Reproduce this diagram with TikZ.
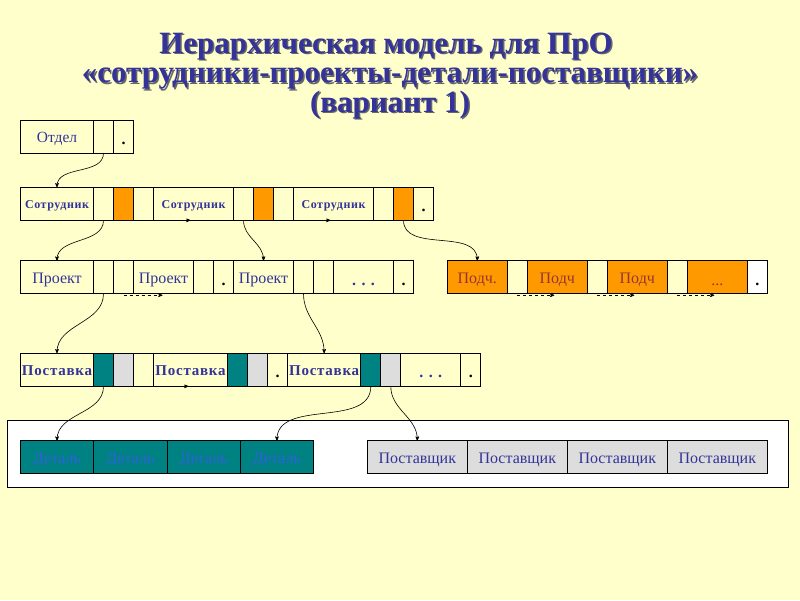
\documentclass[tikz,border=0pt]{standalone}
\usepackage{fontspec}
\setmainfont{Liberation Serif}
\newfontfamily\spacedfont[LetterSpace=5]{Liberation Serif}
\usetikzlibrary{arrows}
\usetikzlibrary{positioning}
\definecolor{bgyel}{RGB}{255,255,204}
\definecolor{navy}{RGB}{51,51,153}
\definecolor{orng}{RGB}{255,153,0}
\definecolor{tealc}{RGB}{0,130,130}
\definecolor{greyc}{RGB}{221,221,221}
\definecolor{brwn}{RGB}{153,51,51}
\definecolor{detblue}{RGB}{50,95,225}
\tikzset{
	cell/.style = {draw=black, line width=0.8pt, inner sep=0pt, outer sep=0pt,
		minimum width=20pt, minimum height=33pt, text height=14pt,
		text depth=2pt, text=navy, font=\fontsize{16}{19}\selectfont},% empty cell
	lbl/.style = {cell, minimum width=#1},% cell with a name
	small/.style = {font=\spacedfont\fontsize{12}{14}\selectfont\bfseries,
		text height=11pt, text depth=2pt},% сотрудник
	mid/.style = {font=\spacedfont\fontsize{15}{18}\selectfont\bfseries},% поставка
	dotc/.style = {cell, text=black, font=\fontsize{16}{19}\selectfont\bfseries,
		text height=17pt, text depth=1pt},% cell with a dot
	ptr_o/.style = {cell, fill=orng},% orange cell
	ptr_t/.style = {cell, fill=tealc},% teal cell
	ptr_g/.style = {cell, fill=greyc},% grey cell
	conn/.style = {->, line width=0.6pt, out=-90, in=90},% curved pointer
	link/.style = {->, line width=0.6pt}% short pointer
}

\begin{document}
\begin{tikzpicture}[x=1pt, y=-1pt, >=stealth']
\fill[bgyel] (0,0) rectangle (800,600);
% title
\node[font=\bfseries\fontsize{31}{29.5}\selectfont, text=black!60, align=center]
	(tshadow) at (391.5,77.5) {Иерархическая модель для ПрО\hspace*{8pt}\\
	«сотрудники-проекты-детали-поставщики»\\(вариант 1)};
\node[font=\bfseries\fontsize{31}{29.5}\selectfont, text=navy, align=center]
	(title) at (390,76) {Иерархическая модель для ПрО\hspace*{8pt}\\
	«сотрудники-проекты-детали-поставщики»\\(вариант 1)};
% отдел
\node[lbl=73pt, anchor=north west, font=\fontsize{15.5}{18}\selectfont] (otd) at (20.5,120) {Отдел};
\node[cell, right=0pt of otd] (otd1) {};
\node[dotc, right=0pt of otd1] (otd2) {.};
% сотрудники
\begin{scope}[every node/.append style={minimum height=32.7pt}]
\node[lbl=73pt, small, anchor=north west] (sot1) at (20.5,187.3) {Сотрудник};
\node[cell, right=0pt of sot1] (sot1a) {};
\node[ptr_o, right=0pt of sot1a] (sot1b) {};
\node[cell, right=0pt of sot1b] (sot1c) {};
\node[lbl=80pt, small, right=0pt of sot1c] (sot2) {Сотрудник};
\node[cell, right=0pt of sot2] (sot2a) {};
\node[ptr_o, right=0pt of sot2a] (sot2b) {};
\node[cell, right=0pt of sot2b] (sot2c) {};
\node[lbl=80pt, small, right=0pt of sot2c] (sot3) {Сотрудник};
\node[cell, right=0pt of sot3] (sot3a) {};
\node[ptr_o, right=0pt of sot3a] (sot3b) {};
\node[dotc, right=0pt of sot3b] (sot3c) {.};
\end{scope}
% проекты
\begin{scope}[every node/.append style={minimum height=32.7pt}]
\node[lbl=73pt, anchor=north west] (pr1) at (20.5,260.7) {Проект};
\node[cell, right=0pt of pr1] (pr1a) {};
\node[cell, right=0pt of pr1a] (pr1b) {};
\node[lbl=60pt, right=0pt of pr1b] (pr2) {Проект};
\node[cell, right=0pt of pr2] (pr2a) {};
\node[dotc, right=0pt of pr2a] (pr2b) {.};
\node[lbl=60pt, right=0pt of pr2b] (pr3) {Проект};
\node[cell, right=0pt of pr3] (pr3a) {};
\node[cell, right=0pt of pr3a] (pr3b) {};
\node[dotc, minimum width=60pt, text=navy, right=0pt of pr3b] (pr4) {. . .};
\node[dotc, right=0pt of pr4] (pr4a) {.};
% подчинённые
\node[lbl=60pt, fill=orng, text=brwn, anchor=north west] (pd1) at (447.3,260.7) {Подч.};
\node[cell, right=0pt of pd1] (pd1a) {};
\node[lbl=60pt, fill=orng, text=brwn, right=0pt of pd1a] (pd2) {Подч};
\node[cell, right=0pt of pd2] (pd2a) {};
\node[lbl=60pt, fill=orng, text=brwn, right=0pt of pd2a] (pd3) {Подч};
\node[cell, right=0pt of pd3] (pd3a) {};
\node[dotc, minimum width=60pt, fill=orng, text=brwn, font=\fontsize{16}{19}\selectfont,
	right=0pt of pd3a] (pd4) {...};
\node[dotc, fill=white, right=0pt of pd4] (pd4a) {.};
\end{scope}
% поставки
\begin{scope}[every node/.append style={minimum height=34pt}]
\node[lbl=73pt, mid, anchor=north west] (ps1) at (20.5,353.3) {Поставка};
\node[ptr_t, right=0pt of ps1] (ps1a) {};
\node[ptr_g, right=0pt of ps1a] (ps1b) {};
\node[cell, right=0pt of ps1b] (ps1c) {};
\node[lbl=74pt, mid, right=0pt of ps1c] (ps2) {Поставка};
\node[ptr_t, right=0pt of ps2] (ps2a) {};
\node[ptr_g, right=0pt of ps2a] (ps2b) {};
\node[dotc, right=0pt of ps2b] (ps2c) {.};
\node[lbl=73.3pt, mid, right=0pt of ps2c] (ps3) {Поставка};
\node[ptr_t, right=0pt of ps3] (ps3a) {};
\node[ptr_g, right=0pt of ps3a] (ps3b) {};
\node[dotc, minimum width=60pt, text=navy, right=0pt of ps3b] (ps4) {. . .};
\node[dotc, right=0pt of ps4] (ps4a) {.};
\end{scope}
% детали и поставщики
\draw[fill=white, line width=0.8pt] (7.7,420.7) rectangle (788.3,487.3);
\begin{scope}[every node/.append style={minimum height=32pt, text height=15pt, text depth=1pt}]
\node[lbl=73.3pt, fill=tealc, text=detblue, anchor=north west] (det1) at (20.4,440.7) {Деталь};
\node[lbl=73.3pt, fill=tealc, text=detblue, right=0pt of det1] (det2) {Деталь};
\node[lbl=73.3pt, fill=tealc, text=detblue, right=0pt of det2] (det3) {Деталь};
\node[lbl=73.3pt, fill=tealc, text=detblue, right=0pt of det3] (det4) {Деталь};
\node[lbl=100pt, fill=greyc, anchor=north west] (post1) at (367.3,440.7) {Поставщик};
\node[lbl=100pt, fill=greyc, right=0pt of post1] (post2) {Поставщик};
\node[lbl=100pt, fill=greyc, right=0pt of post2] (post3) {Поставщик};
\node[lbl=100pt, fill=greyc, right=0pt of post3] (post4) {Поставщик};
\end{scope}
% указатели
\draw[conn] (otd1.south) to (sot1.north);
\draw[conn] (sot1a.south) to (pr1.north);
\draw[conn] (sot2a.south) to (pr3.north);
\draw[conn] (sot3b.south) to (pd1.north);
\draw[conn] (pr1a.south) to (ps1.north);
\draw[conn] (pr3a.south) to (ps3.north);
\draw[conn] (ps1a.south) to (det1.north);
\draw[conn] (ps3a.south) to (det4.north);
\draw[conn] (ps3b.south) to (post1.north);
\draw[link] ([xshift=29pt]sot2.south west) -- ([xshift=37pt]sot2.south west);
\draw[link] ([xshift=29pt]sot3.south west) -- ([xshift=37pt]sot3.south west);
\draw[link] ([xshift=27pt]ps2.south west) -- ([xshift=35pt]ps2.south west);
\draw[link, dashed] ([yshift=-1.5pt]pr1b.south) -- ([xshift=29pt,yshift=-1.5pt]pr2.south west);
\draw[link, dashed] ([xshift=10pt,yshift=-1.5pt]pd1a.south west) -- ([xshift=27pt,yshift=-1.5pt]pd2.south west);
\draw[link, dashed] ([xshift=10pt,yshift=-1.5pt]pd2a.south west) -- ([xshift=27pt,yshift=-1.5pt]pd3.south west);
\draw[link, dashed] ([xshift=10pt,yshift=-1.5pt]pd3a.south west) -- ([xshift=27pt,yshift=-1.5pt]pd4.south west);
\end{tikzpicture}
\end{document}
